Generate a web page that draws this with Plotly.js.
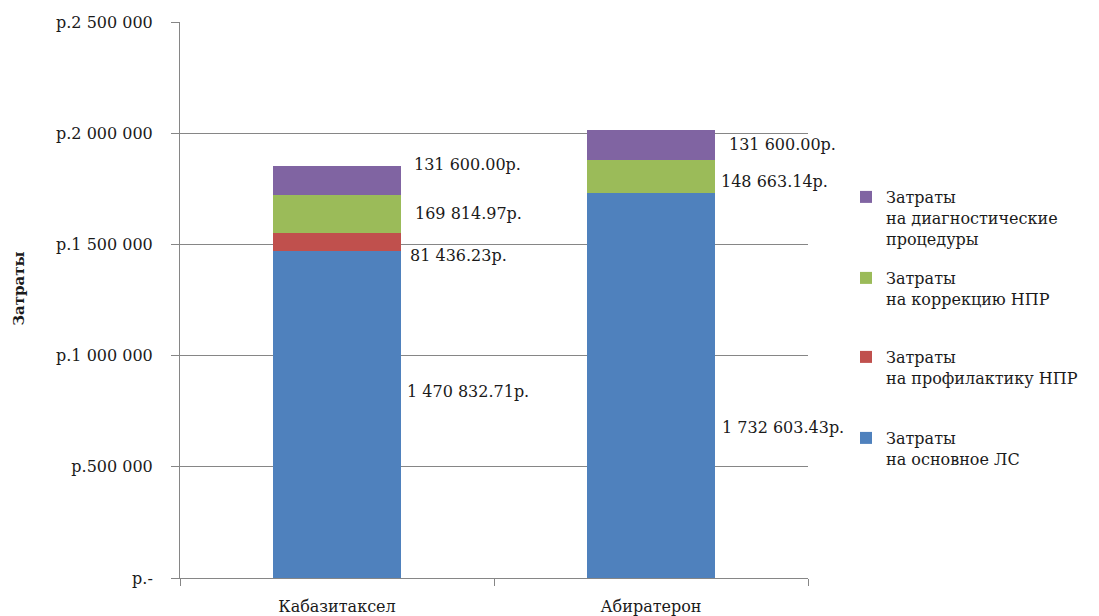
<!DOCTYPE html>
<html><head><meta charset="utf-8">
<script src="https://cdn.plot.ly/plotly-3.0.1.min.js"></script>
<style>html,body{margin:0;padding:0;background:#fff}#chart{width:1099px;height:616px}</style>
</head><body><div id="chart"></div>
<script>
const categories = ['Кабазитаксел', 'Абиратерон'];
const seriesNames = [
  'Затраты<br>на основное ЛС',
  'Затраты<br>на профилактику НПР',
  'Затраты<br>на коррекцию НПР',
  'Затраты<br>на диагностические<br>процедуры'
];
const mainDrug = [1470832.71, 1732603.43];
const prevention = [81436.23, 0];
const correction = [169814.97, 148663.14];
const diagnostics = [131600.00, 131600.00];
const tickValues = [0, 500000, 1000000, 1500000, 2000000, 2500000];
const tickLabels = ['р.-', 'р.500 000', 'р.1 000 000', 'р.1 500 000', 'р.2 000 000', 'р.2 500 000'];

const colors = ['#4f81bd', '#c0504d', '#9bbb59', '#8064a2'];
const FONT = 'DejaVu Serif';
const TEXT = '#1a1a1a';
const series = [mainDrug, prevention, correction, diagnostics];
const legendIds = ['legend4', 'legend3', 'legend2', 'legend'];
const legendTops = [421, 340, 261, 180];

function fmt(v) {
  const s = v.toFixed(2);
  const [i, d] = s.split('.');
  return i.replace(/\B(?=(\d{3})+(?!\d))/g, ' ') + '.' + d + 'р.';
}

const traces = series.map((vals, k) => ({
  type: 'bar',
  x: categories,
  y: vals,
  name: seriesNames[k],
  legend: legendIds[k],
  marker: {color: colors[k]},
  hoverinfo: 'skip'
}));

// label offsets (pixels) per category per series: [xshift, yshift]
const labelOffsets = [
  [[68, 23], [71, -14], [76, 0], [75, 16]],
  [[69, -42], null, [68, -5], [76, 0]]
];
const annotations = [];
categories.forEach((c, ci) => {
  let base = 0;
  series.forEach((vals, k) => {
    const v = vals[ci];
    const off = labelOffsets[ci][k];
    if (v > 0 && off) {
      annotations.push({
        x: c, y: base + v / 2, xref: 'x', yref: 'y',
        text: fmt(v), showarrow: false, xanchor: 'left', yanchor: 'middle',
        xshift: off[0], yshift: off[1],
        font: {family: FONT, size: 16, color: TEXT}
      });
    }
    base += v;
  });
});
annotations.push({
  text: '<b>Затраты</b>', xref: 'paper', yref: 'paper', x: -0.274, y: 0.52,
  textangle: -90, showarrow: false, font: {family: FONT, size: 15, color: TEXT}
});

const layout = {
  width: 1099, height: 616,
  margin: {l: 180, r: 291, t: 22, b: 38},
  paper_bgcolor: '#fff', plot_bgcolor: '#fff',
  barmode: 'stack', bargap: 0.595,
  font: {family: FONT, size: 16, color: TEXT},
  xaxis: {
    range: [-0.5, 1.5],
    showline: true, linecolor: '#868686', linewidth: 1,
    ticks: 'outside', tickson: 'boundaries', ticklen: 7, tickcolor: '#868686',
    tickfont: {family: FONT, size: 16, color: TEXT}, ticklabelstandoff: 14
  },
  yaxis: {
    range: [0, 2500000], tickvals: tickValues, ticktext: tickLabels,
    showline: true, linecolor: '#868686', linewidth: 1,
    ticks: 'outside', ticklen: 8, tickcolor: '#868686',
    showgrid: true, gridcolor: '#868686', gridwidth: 1, zeroline: false,
    tickfont: {family: FONT, size: 16, color: TEXT}, ticklabelstandoff: 15
  },
  showlegend: true,
  annotations: annotations
};
legendIds.forEach((id, k) => {
  layout[id] = {
    x: 846 / 1099, xref: 'container', y: 1 - legendTops[k] / 616, yref: 'container',
    xanchor: 'left', yanchor: 'top', valign: 'top', bgcolor: 'rgba(0,0,0,0)',
    font: {family: FONT, size: 16, color: TEXT}
  };
});
Plotly.newPlot('chart', traces, layout, {displayModeBar: false, staticPlot: true});
</script></body></html>
